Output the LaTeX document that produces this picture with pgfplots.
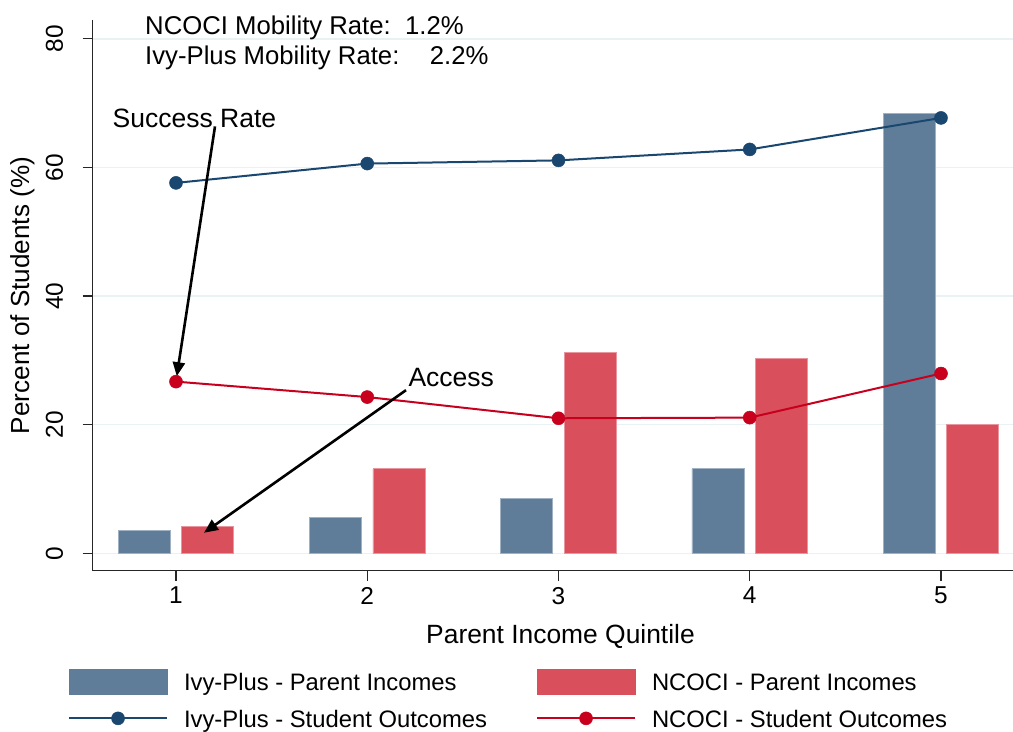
\documentclass[border=0pt]{standalone}
\usepackage{fontspec}
\setmainfont{Liberation Sans}
\usepackage{pgfplots}
\pgfplotsset{compat=1.18}
\usetikzlibrary{arrows.meta}
\definecolor{ivybar}{RGB}{95,125,153}
\definecolor{ncbar}{RGB}{218,79,92}
\definecolor{ivyline}{RGB}{26,71,111}
\definecolor{ncline}{RGB}{200,0,30}
\definecolor{gridc}{RGB}{232,241,243}
\pgfplotsset{
  linelegend/.style={legend image code/.code={\draw[##1, mark repeat=2, mark phase=2] plot coordinates {(0bp,3.2bp) (49bp,3.2bp) (98bp,3.2bp)};}},
  ivylegend/.style={legend image code/.code={\fill[ivybar] (0bp,-9.3bp) rectangle (98bp,15.7bp);}},
  nclegend/.style={legend image code/.code={\fill[ncbar] (0bp,-9.3bp) rectangle (98bp,15.7bp);}},
}
\begin{document}
\begin{tikzpicture}
\useasboundingbox (0,0) rectangle (1013bp,732bp);
\begin{axis}[
  at={(92.7bp,161.3bp)}, anchor=south west,
  scale only axis, width=920.3bp, height=550.2bp,
  xmin=0.5645, xmax=5.3765, ymin=-2.70, ymax=82.85,
  clip=false,
  axis x line*=bottom, axis y line*=left,
  axis line style={line width=1.3bp, black!85},
  xtick={1,2,3,4,5}, ytick={0,20,40,60,80},
  tick align=outside, major tick length=10bp,
  tick style={line width=1.3bp, black!85},
  ymajorgrids, grid style={line width=1.5bp, gridc},
  /pgf/number format/assume math mode=true,
  ticklabel style={font=\fontsize{24.5}{28}\selectfont, inner sep=0pt},
  yticklabel style={rotate=90, anchor=south},
  yticklabel shift=19.4bp,
  xticklabel style={anchor=north},
  xticklabel shift=6.3bp,
  xlabel={Parent Income Quintile},
  xlabel style={at={(axis description cs:0.5083,-0.132)}, anchor=base, font=\fontsize{26.5}{30}\selectfont, inner sep=0pt},
  ylabel={Percent of Students (\%)},
  ylabel style={at={(axis description cs:-0.0692,0.5)}, anchor=base, font=\fontsize{26.2}{30}\selectfont, inner sep=0pt},
  legend columns=2, legend cell align=left,
  legend style={
    at={(-0.0268,-0.1778)}, anchor=north west,
    draw=none, fill=none, inner sep=0pt, outer sep=0pt,
    font=\fontsize{23.9}{27}\selectfont,
    row sep=15bp,
    nodes={inner sep=0pt, text height=17bp, text depth=5bp},
    /tikz/every odd column/.append style={column sep=16bp},
    /tikz/every even column/.append style={column sep=47bp},
  },
]
\addplot[ybar, bar width=0.272, bar shift=-0.166, fill=ivybar, draw=ivybar!60!white, line width=0.7bp, ivylegend]
  coordinates {(1,3.62) (2,5.59) (3,8.54) (4,13.14) (5,68.35)};
\addlegendentry{\makebox[305bp][l]{Ivy-Plus - Parent Incomes}}
\addplot[ybar, bar width=0.272, bar shift=0.166, fill=ncbar, draw=ncbar!60!white, line width=0.7bp, nclegend]
  coordinates {(1,4.24) (2,13.14) (3,31.3) (4,30.3) (5,20.09)};
\addlegendentry{NCOCI - Parent Incomes}
\addplot[color=ivyline, line width=2bp, mark=*, mark size=6.5bp, mark options={solid, fill=ivyline, line width=0.5bp}, linelegend]
  coordinates {(1,57.6) (2,60.6) (3,61.1) (4,62.8) (5,67.7)};
\addlegendentry{\makebox[305bp][l]{Ivy-Plus - Student Outcomes}}
\addplot[color=ncline, line width=2bp, mark=*, mark size=6.5bp, mark options={solid, fill=ncline, line width=0.5bp}, linelegend]
  coordinates {(1,26.7) (2,24.3) (3,21.0) (4,21.1) (5,27.96)};
\addlegendentry{NCOCI - Student Outcomes}
\draw[line width=2.6bp, -{Triangle[length=14bp, width=12bp]}] (axis cs:1.204,66.38) -- (axis cs:1.004,27.54);
\draw[line width=2.6bp, -{Triangle[length=14bp, width=12bp]}] (axis cs:2.2026,25.37) -- (axis cs:1.1464,3.2);
\node[anchor=base west, inner sep=0pt, font=\fontsize{26.6}{30}\selectfont] at (axis cs:0.668,66.17) {Success Rate};
\node[anchor=base west, inner sep=0pt, font=\fontsize{26.6}{30}\selectfont] at (axis cs:2.215,25.99) {Access};
\node[anchor=base west, inner sep=0pt, font=\fontsize{25.8}{30}\selectfont] at (axis cs:0.838,80.62) {NCOCI Mobility Rate:\ \ 1.2\%};
\node[anchor=base west, inner sep=0pt, font=\fontsize{25.8}{30}\selectfont] at (axis cs:0.838,76.0) {Ivy-Plus Mobility Rate:\ \ \ \hspace{9bp}2.2\%};
\end{axis}
\end{tikzpicture}
\end{document}
